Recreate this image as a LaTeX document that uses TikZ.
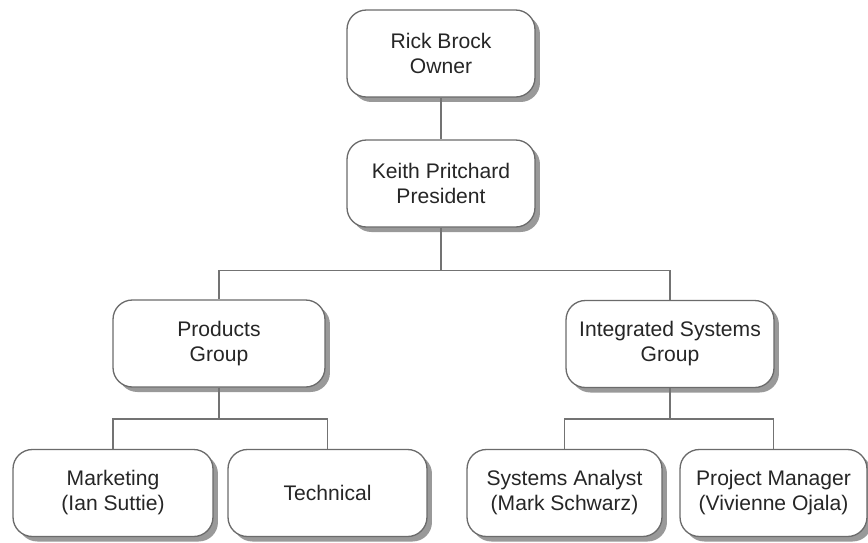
\documentclass[tikz,border=0pt]{standalone}
\usepackage{fontspec}
\setmainfont{Liberation Sans}
\usetikzlibrary{shadows}

\tikzset{
    unit/.style={draw=black!58, line width=0.75pt, rounded corners=11pt, fill=white,
        minimum height=1.74cm, align=center, inner sep=2pt, text=black!85,
        font=\fontsize{12}{14.2}\selectfont,
        drop shadow={shadow xshift=0.1cm, shadow yshift=-0.1cm, fill=black!40, opacity=1}},
    link/.style={draw=black!55, line width=0.95pt}
}

\begin{document}
\begin{tikzpicture}[x=0.02cm, y=-0.02cm]
    \useasboundingbox (0,0) rectangle (868,542);

    % Top of the chart
    \node[unit, minimum width=3.76cm] (owner) at (441,53.5) {Rick Brock\\Owner};
    \node[unit, minimum width=3.76cm] (pres) at (441,183.5) {Keith Pritchard\\President};

    % Groups
    \node[unit, minimum width=4.24cm] (prod) at (219,343.5) {Products\\Group};
    \node[unit, minimum width=4.16cm] (integ) at (670,344) {Integrated Systems\\Group};

    % Staff
    \node[unit, minimum width=4.0cm] (mkt) at (113,493) {Marketing\\(Ian Suttie)};
    \node[unit, minimum width=3.98cm] (tech) at (327.5,493) {Technical};
    \node[unit, minimum width=3.9cm] (analyst) at (564.5,493) {Systems Analyst\\(Mark Schwarz)};
    \node[unit, minimum width=3.74cm] (pm) at (773.5,493) {Project Manager\\(Vivienne Ojala)};

    % Reporting lines
    \draw[link] (owner.south) -- (pres.north);
    \draw[link] (pres.south) -- ++(0,43) -| (prod.north);
    \draw[link] (pres.south) -- ++(0,43) -| (integ.north);
    \draw[link] (prod.south) -- ++(0,31.5) -| (mkt.north);
    \draw[link] (prod.south) -- ++(0,31.5) -| (tech.north);
    \draw[link] (integ.south) -- ++(0,31) -| (analyst.north);
    \draw[link] (integ.south) -- ++(0,31) -| (pm.north);
\end{tikzpicture}
\end{document}
